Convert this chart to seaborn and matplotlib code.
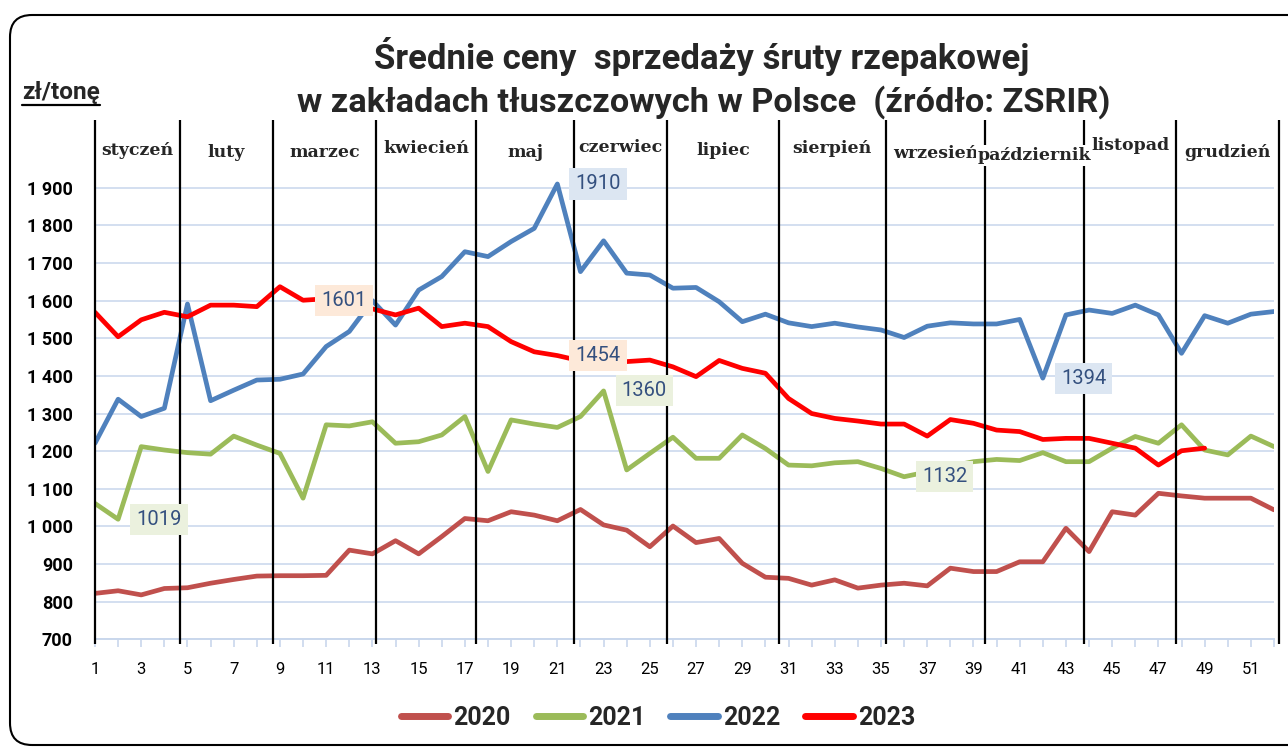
import numpy as np
import pandas as pd
import matplotlib
matplotlib.use("Agg")
import matplotlib.pyplot as plt
import seaborn as sns
from matplotlib.patches import FancyBboxPatch
from matplotlib.lines import Line2D

# ---------------- data ----------------
weeks = list(range(1, 53))
years = ["2020", "2021", "2022", "2023"]

price_2020 = [822, 829, 818, 835, 837, 849, 859, 868, 869, 869, 870, 937, 927, 962, 927,
              973, 1021, 1015, 1039, 1030, 1015, 1045, 1004, 990, 946, 1001, 957, 968, 902,
              865, 862, 844, 858, 836,
              844, 849, 842, 889, 880, 880, 906, 906, 995, 933, 1039, 1030, 1088, 1081,
              1075, 1075, 1075, 1044]
price_2021 = [1061, 1019, 1212, 1203, 1196, 1192, 1240, 1216, 1194, 1075, 1270, 1267, 1278, 1221, 1225,
              1243, 1292, 1146, 1283, 1272, 1263, 1292, 1360, 1150, 1194, 1237, 1181, 1181, 1243,
              1207, 1163, 1161, 1169, 1172,
              1154, 1132, 1145, 1160, 1172, 1178, 1175, 1196, 1172, 1172, 1208, 1239, 1221, 1270,
              1203, 1190, 1240, 1212]
price_2022 = [1221, 1338, 1292, 1314, 1591, 1334, 1362, 1389, 1391, 1405, 1478, 1518, 1600, 1535, 1628,
              1664, 1730, 1717, 1757, 1792, 1910, 1677, 1759, 1673, 1668, 1633, 1635, 1597, 1544,
              1564, 1541, 1531, 1540, 1530,
              1522, 1502, 1532, 1541, 1538, 1538, 1550, 1394, 1562, 1575, 1566, 1588, 1562, 1460,
              1560, 1540, 1564, 1571]
price_2023 = [1569, 1504, 1549, 1569, 1557, 1588, 1588, 1584, 1637, 1601, 1605, 1590, 1578, 1562, 1580,
              1531, 1540, 1531, 1491, 1464, 1454, 1440, 1430, 1438, 1442, 1424, 1398, 1441, 1420,
              1407, 1340, 1300, 1287, 1280,
              1272, 1272, 1240, 1284, 1274, 1256, 1252, 1231, 1234, 1234, 1221, 1208, 1163, 1201,
              1208]

month_names = ["styczeń", "luty", "marzec", "kwiecień", "maj", "czerwiec", "lipiec",
               "sierpień", "wrzesień", "październik", "listopad", "grudzień"]
month_bounds = [1, 4.68, 8.7, 13.16, 17.5, 21.7, 25.76, 30.57, 35.2, 39.5, 43.8, 47.75, 52.2]

y_ticks = list(range(700, 2000, 100))
x_tick_labels = [str(w) if w % 2 == 1 else "" for w in weeks]

# data labels: (year, week)
labelled = [("2021", 2), ("2023", 10), ("2022", 21), ("2023", 21), ("2021", 23),
            ("2021", 36), ("2022", 42)]

series = {"2020": price_2020, "2021": price_2021, "2022": price_2022, "2023": price_2023}
colors = {"2020": "#C0504D", "2021": "#9BBB59", "2022": "#4F81BD", "2023": "#FF0000"}
label_bg = {"2021": "#EBF1DE", "2022": "#DCE6F2", "2023": "#FDE9D9"}

df = pd.concat([pd.DataFrame({"week": weeks[:len(v)], "price": v, "year": y})
                for y, v in series.items()], ignore_index=True)

# ---------------- figure ----------------
sns.set_theme(style="white")
plt.rcParams["font.family"] = ["Roboto", "DejaVu Sans"]

W, H = 1288, 749
fig = plt.figure(figsize=(W / 100, H / 100), dpi=100)
ax_top_px, ax_bot_px = 150.1, 639.3
ax = fig.add_axes([95 / W, 1 - ax_bot_px / H, (1274 - 95) / W, (ax_bot_px - ax_top_px) / H])

sns.lineplot(data=df, x="week", y="price", hue="year", hue_order=years,
             palette=colors, linewidth=3.4, ax=ax, legend=False)
for ln in ax.lines:
    ln.set_solid_joinstyle("round")
    ln.set_solid_capstyle("round")
    ln.set_zorder(3)

ax.set_xlim(1, 52)
ax.set_ylim(700, 2000)
ax.set_yticks(y_ticks)
ax.set_yticklabels([f"{v:,}".replace(",", " ") for v in y_ticks])
ax.set_xticks(weeks)
ax.set_xticklabels(x_tick_labels)
ax.set_xlabel("")
ax.set_ylabel("")
ax.grid(axis="y", color="#D3DFF0", lw=1.4)
ax.grid(axis="x", visible=False)
for s in ["left", "right", "top"]:
    ax.spines[s].set_visible(False)
ax.spines["bottom"].set_color("#C9D7EC")
ax.spines["bottom"].set_linewidth(1.4)
ax.tick_params(axis="x", length=6, width=1.2, color="#C9D7EC", pad=10,
               labelsize=12, labelcolor="black", bottom=True)
ax.tick_params(axis="y", length=0, pad=16, labelsize=13, labelcolor="black")
for t in ax.get_yticklabels():
    t.set_fontweight("bold")

# helper: pixel row (from top) -> data value
def py_to_val(py):
    return 700 + (ax_bot_px - py) / (ax_bot_px - ax_top_px) * 1300

# month dividers and labels
for b in month_bounds:
    ax.plot([b, b], [688, py_to_val(120)], color="black", lw=1.6, clip_on=False, zorder=5,
            solid_capstyle="butt")
label_baselines_px = [155, 157, 157, 153, 157, 152, 155, 153, 158, 160, 150, 157]
for i, name in enumerate(month_names):
    mid = (month_bounds[i] + month_bounds[i + 1]) / 2
    ax.text(mid, py_to_val(label_baselines_px[i]), name, ha="center", va="baseline",
            fontsize=12.5, fontweight="bold", family=["DejaVu Serif"], clip_on=False, zorder=7,
            bbox=dict(facecolor="white", edgecolor="none", pad=1.5))

# data labels
for y, w in labelled:
    v = series[y][w - 1]
    ax.annotate(str(v), xy=(w, v), xytext=(13, 0), textcoords="offset points",
                ha="left", va="center", fontsize=14.5, color="#34507F", zorder=8,
                bbox=dict(boxstyle="square,pad=0.3", facecolor=label_bg[y], edgecolor="none"))

# legend
handles = [Line2D([0], [0], color=colors[y], lw=5, solid_capstyle="round") for y in years]
fig.legend(handles, years, loc="center", bbox_to_anchor=(658 / W, 1 - 718 / H), ncol=4,
           frameon=False, prop=dict(weight="bold", size=18), handlelength=1.9,
           handletextpad=0.2, columnspacing=1.0)

# titles
tfam = ["Roboto", "DejaVu Sans"]
t1 = fig.text(702 / W, 1 - 57 / H, "Średnie ceny  sprzedaży śruty rzepakowej",
              ha="center", va="center", fontsize=22, fontweight="bold", family=tfam)
t2 = fig.text(704 / W, 1 - 102 / H, "w zakładach tłuszczowych w Polsce  (źródło: ZSRIR)",
              ha="center", va="center", fontsize=22, fontweight="bold", family=tfam)
unit = fig.text(22 / W, 1 - 92 / H, "zł/tonę", ha="left", va="center", fontsize=14,
                fontweight="bold", family=tfam)

fig.canvas.draw()
r = fig.canvas.get_renderer()
for t, target in [(t1, 655), (t2, 812), (unit, 78)]:
    wdt = t.get_window_extent(r).width
    t.set_fontsize(t.get_fontsize() * target / wdt)
fig.canvas.draw()
bb = unit.get_window_extent(r)
fig.add_artist(Line2D([bb.x0 / W, bb.x1 / W], [(bb.y0 - 1) / H, (bb.y0 - 1) / H],
                      color="black", lw=1.6, transform=fig.transFigure))

# rounded border
border = FancyBboxPatch((0.10, 0.04), 13.2, 7.30, boxstyle="round,pad=0,rounding_size=0.22",
                        transform=fig.dpi_scale_trans, fill=False, edgecolor="black", lw=1.5)
fig.add_artist(border)

fig.savefig("out.png", dpi=100)
